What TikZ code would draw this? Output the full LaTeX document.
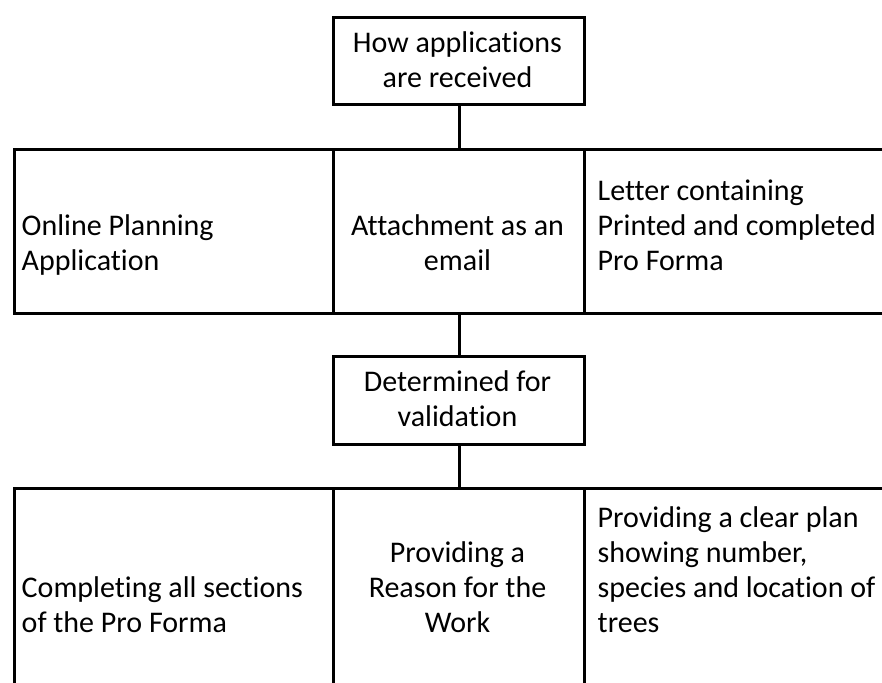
\documentclass[tikz,border=0pt]{standalone}
\usepackage{fontspec}
\setmainfont{Carlito}[Ligatures={NoCommon}]
\begin{document}
\begin{tikzpicture}[x=1pt,y=-1pt,
  cell/.style={draw, line width=3pt, inner sep=0pt, anchor=north west, rectangle},
  txt/.style={inner sep=0pt, font=\fontsize{30}{35}\selectfont},
  ctxt/.style={txt, align=center, anchor=base},
  ltxt/.style={txt, align=left, anchor=base west},
  link/.style={line width=3pt}]
\useasboundingbox (0,0) rectangle (882,682);
\begin{scope}
\clip (0,0) rectangle (882,682);
% boxes
\node[cell, minimum width=251pt, minimum height=87pt] (top) at (332,16) {};
\node[cell, minimum width=319pt, minimum height=164pt] (r1a) at (13,148) {};
\node[cell, minimum width=251pt, minimum height=164pt] (r1b) at (332,148) {};
\node[cell, minimum width=320pt, minimum height=164pt] (r1c) at (583,148) {};
\node[cell, minimum width=251pt, minimum height=88pt] (det) at (332,355) {};
\node[cell, minimum width=319pt, minimum height=240pt] (r2a) at (13,487) {};
\node[cell, minimum width=251pt, minimum height=240pt] (r2b) at (332,487) {};
\node[cell, minimum width=320pt, minimum height=240pt] (r2c) at (583,487) {};
% connectors
\draw[link] (top.south) -- (r1b.north);
\draw[link] (r1b.south) -- (det.north);
\draw[link] (det.south) -- (r2b.north);
% texts (base = baseline of last line)
\node[ctxt] (ttop) at (457.5,88) {How applications\\are received};
\node[ltxt] (t1a) at (21.5,270) {Online Planning\\Application};
\node[ctxt] (t1b) at (457.5,270) {Attachment as an\\email};
\node[ltxt] (t1c) at (597.5,270) {Letter containing\\Printed and completed\\Pro Forma};
\node[ctxt] (tdet) at (457.5,426) {Determined for\\validation};
\node[ltxt] (t2a) at (21.5,632) {Completing all sections\\of the Pro Forma};
\node[ctxt] (t2b) at (457.5,632) {Providing a\\Reason for the\\Work};
\node[ltxt] (t2c) at (597.5,632) {Providing a clear plan\\showing number,\\species and location of\\trees};
\end{scope}
\end{tikzpicture}
\end{document}
